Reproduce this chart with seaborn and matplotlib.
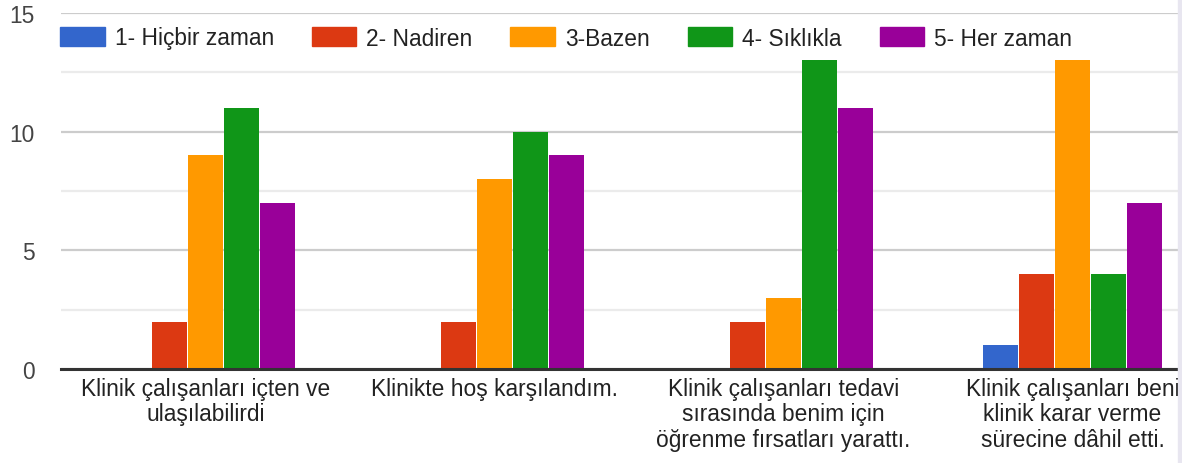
import pandas as pd
import matplotlib.pyplot as plt
import matplotlib.patches as mpatches
import seaborn as sns

# Survey answers per statement
questions = [
    'Klinik çalışanları içten ve\nulaşılabilirdi',
    'Klinikte hoş karşılandım.',
    'Klinik çalışanları tedavi\nsırasında benim için\nöğrenme fırsatları yarattı.',
    'Klinik çalışanları beni\nklinik karar verme\nsürecine dâhil etti.',
]
answers = ['1- Hiçbir zaman', '2- Nadiren', '3-Bazen', '4- Sıklıkla', '5- Her zaman']
hicbir = [0, 0, 0, 1]
nadiren = [2, 2, 2, 4]
bazen = [9, 8, 3, 13]
siklikla = [11, 10, 13, 4]
her_zaman = [7, 9, 11, 7]
colors = ['#3366cc', '#dc3912', '#ff9900', '#109618', '#990099']

rows = []
for ans, vals in zip(answers, [hicbir, nadiren, bazen, siklikla, her_zaman]):
    for q, v in zip(questions, vals):
        rows.append({'question': q, 'answer': ans, 'count': v})
df = pd.DataFrame(rows)

sns.set_theme(style='white')
plt.rcParams['font.family'] = ['Liberation Sans', 'DejaVu Sans']
fs = 16.4

fig = plt.figure(figsize=(11.82, 4.64), dpi=100)
ax = fig.add_axes([61 / 1182, 94 / 464, 1156 / 1182, 356 / 464])

sns.barplot(data=df, x='question', y='count', hue='answer', order=questions,
            hue_order=answers, palette=colors, width=0.62, gap=0.03,
            saturation=1, linewidth=0, ax=ax, legend=False)

ax.set_xlim(-0.5, 3.5)
ax.set_ylim(0, 15)
ax.set_yticks([0, 5, 10, 15])
ax.set_yticks([2.5, 7.5, 12.5], minor=True)
ax.grid(axis='y', which='major', color='#cccccc', linewidth=1.6)
ax.grid(axis='y', which='minor', color='#ebebeb', linewidth=1.6)
ax.set_axisbelow(True)
for s in ['top', 'right', 'left']:
    ax.spines[s].set_visible(False)
ax.spines['bottom'].set_color('#333333')
ax.spines['bottom'].set_linewidth(2.2)
ax.set_xlabel('')
ax.set_ylabel('')
ax.tick_params(axis='y', which='both', length=0, pad=19, labelsize=fs, labelcolor='#444444')
ax.tick_params(axis='x', length=0, pad=6, labelsize=fs, labelcolor='#222222')
for lbl in ax.get_xticklabels():
    lbl.set_linespacing(1.12)

handles = [mpatches.Patch(color=c, label=a) for c, a in zip(colors, answers)]
fig.legend(handles=handles, loc='center left', bbox_to_anchor=(60 / 1182, 1 - 39 / 464),
           ncol=5, frameon=False, fontsize=fs, handlelength=1.96, handleheight=0.87,
           handletextpad=0.44, columnspacing=1.66, borderpad=0, borderaxespad=0,
           labelcolor='#222222')

# scrollbar strip on the right edge
fig.patches.append(mpatches.Rectangle((1178 / 1182, 0), 4 / 1182, 1, transform=fig.transFigure,
                                      color='#e8e6f0', zorder=10))

fig.savefig('out.png', dpi=100)
